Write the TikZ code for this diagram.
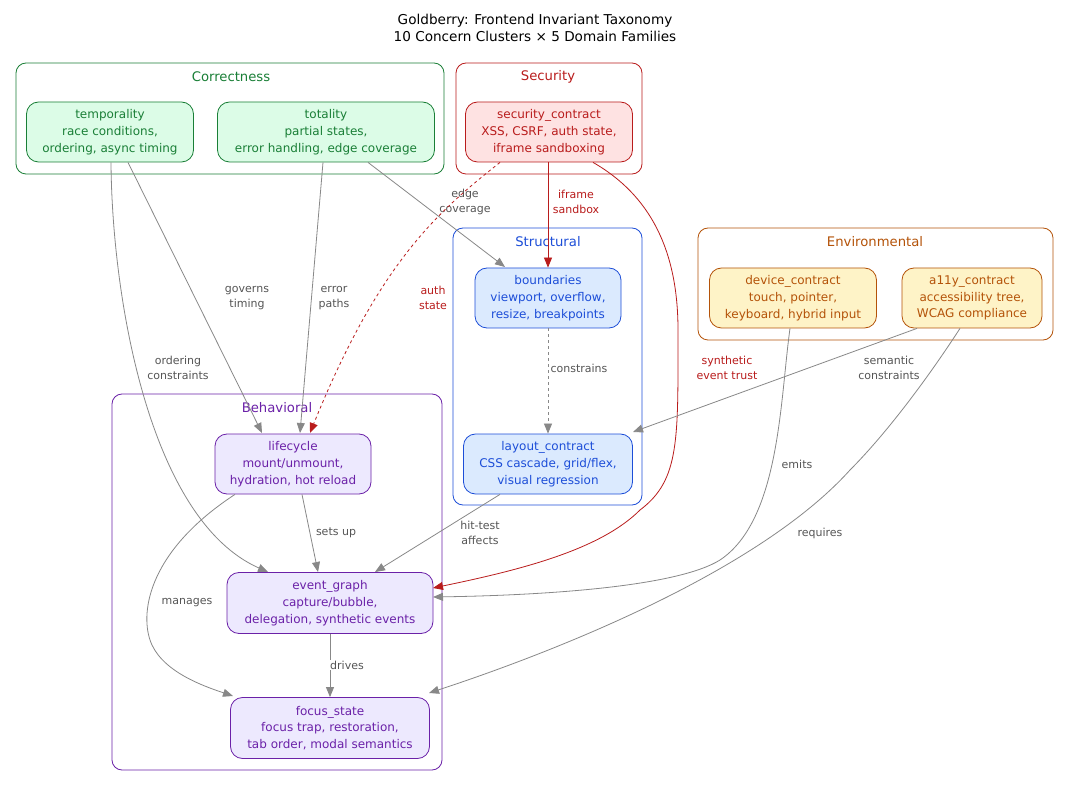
\documentclass[tikz,border=0pt]{standalone}
\usepackage{fontspec}
\setmainfont{DejaVu Sans}
\usetikzlibrary{arrows.meta}
\definecolor{gS}{HTML}{1A7F37}\definecolor{gF}{HTML}{DCFCE7}
\definecolor{rS}{HTML}{B91C1C}\definecolor{rF}{HTML}{FEE2E2}
\definecolor{bS}{HTML}{1D4ED8}\definecolor{bF}{HTML}{DBEAFE}
\definecolor{oS}{HTML}{B45309}\definecolor{oF}{HTML}{FEF3C7}
\definecolor{pS}{HTML}{6B21A8}\definecolor{pF}{HTML}{EDE9FE}
\definecolor{eg}{HTML}{888888}\definecolor{lg}{HTML}{555555}
\tikzset{
 clu/.style={draw=#1,rounded corners=10pt,line width=0.8pt},
 nd/.style 2 args={draw=#1,fill=#2,text=#1,rounded corners=12pt,line width=0.8pt,align=center,font=\fontsize{12}{16.8}\selectfont,inner sep=0pt},
 cl/.style={text=#1,font=\fontsize{13.2}{16}\selectfont},
 e/.style={draw=eg,line width=0.8pt,-{Triangle[length=10pt,width=8pt]}},
 er/.style={draw=rS,line width=0.8pt,-{Triangle[length=10pt,width=8pt]}},
 el/.style={font=\fontsize{11}{14.5}\selectfont,align=center,text=lg,fill=white,inner sep=1pt},
 elr/.style={font=\fontsize{11}{14.5}\selectfont,align=center,text=rS,fill=white,inner sep=1pt},
}
\begin{document}
\begin{tikzpicture}[x=1pt,y=-1pt]
\useasboundingbox[fill=white] (0,0) rectangle (1069,786);
\node[font=\fontsize{13.6}{17}\selectfont,align=center] (title) at (535,28) {Goldberry: Frontend Invariant Taxonomy\\10 Concern Clusters × 5 Domain Families};
% clusters
\draw[clu=gS] (16,63) rectangle (444,174); \node[cl=gS] (cC) at (231,77) {Correctness};
\draw[clu=rS] (456,63) rectangle (642,174); \node[cl=rS] (cS) at (548,77) {Security};
\draw[clu=bS] (453,228) rectangle (642,505); \node[cl=bS] (cT) at (548,242) {Structural};
\draw[clu=oS] (698,228) rectangle (1053,340); \node[cl=oS] (cE) at (875,242) {Environmental};
\draw[clu=pS] (112,394) rectangle (442,770); \node[cl=pS] (cB) at (277,408) {Behavioral};
% nodes
\node[nd={gS}{gF},minimum width=167,minimum height=60] (temp) at (110,132) {temporality\\race conditions,\\ordering, async timing};
\node[nd={gS}{gF},minimum width=217,minimum height=60] (tot) at (326,132) {totality\\partial states,\\error handling, edge coverage};
\node[nd={rS}{rF},minimum width=167,minimum height=60] (sec) at (549,132) {security\_contract\\XSS, CSRF, auth state,\\iframe sandboxing};
\node[nd={bS}{bF},minimum width=146,minimum height=60] (bnd) at (548,298) {boundaries\\viewport, overflow,\\resize, breakpoints};
\node[nd={bS}{bF},minimum width=169,minimum height=60] (lay) at (548,464) {layout\_contract\\CSS cascade, grid/flex,\\visual regression};
\node[nd={oS}{oF},minimum width=167,minimum height=60] (dev) at (793,298) {device\_contract\\touch, pointer,\\keyboard, hybrid input};
\node[nd={oS}{oF},minimum width=140,minimum height=60] (a11y) at (972,298) {a11y\_contract\\accessibility tree,\\WCAG compliance};
\node[nd={pS}{pF},minimum width=156,minimum height=60] (life) at (293,464) {lifecycle\\mount/unmount,\\hydration, hot reload};
\node[nd={pS}{pF},minimum width=206,minimum height=61] (evt) at (330,603) {event\_graph\\capture/bubble,\\delegation, synthetic events};
\node[nd={pS}{pF},minimum width=199,minimum height=61] (foc) at (330,728) {focus\_state\\focus trap, restoration,\\tab order, modal semantics};
% edges
\draw[e] ([xshift=18pt]temp.south) -- (262,433);
\node[el] at (247,298) {governs\\timing};
\draw[e] ([xshift=1pt]temp.south) .. controls (112,300) and (150,520) .. (268,572);
\node[el] at (178,368) {ordering\\constraints};
\draw[e] ([xshift=-3pt]tot.south) -- (300,433);
\node[el] at (334,298) {error\\paths};
\draw[e] ([xshift=42pt]tot.south) -- (505,267);
\node[el,fill=none] at (465,202) {edge\\coverage};
\draw[er,dashed] ([xshift=-49pt]sec.south) .. controls (440,210) and (380,260) .. (310,433);
\node[elr] at (433,298) {auth\\state};
\draw[er] (sec.south -| bnd.north) -- (bnd.north);
\node[elr] at (576,202) {iframe\\sandbox};
\draw[er] ([xshift=44pt]sec.south) .. controls (650,195) and (678,250) .. (678,330) .. controls (678,440) and (680,480) .. (640,510) .. controls (600,550) and (520,570) .. (433,588);
\node[elr] at (727,368) {synthetic\\event trust};
\draw[e,dashed] (bnd.south) -- (lay.north);
\node[el] at (579,368) {constrains};
\draw[e] ([xshift=-55pt]a11y.south) -- (633,432);
\node[el] at (889,368) {semantic\\constraints};
\draw[e] ([xshift=-3pt]dev.south) .. controls (780,400) and (780,520) .. (720,560) .. controls (680,585) and (560,595) .. (433,597);
\node[el] at (797,464) {emits};
\draw[e] ([xshift=-12pt]a11y.south) .. controls (920,390) and (880,440) .. (850,470) .. controls (760,570) and (560,650) .. (429,693);
\node[el] at (820,533) {requires};
\draw[e] ([xshift=-48pt]lay.south) -- (375,572);
\node[el] at (480,533) {hit-test\\affects};
\draw[e] ([xshift=9pt]life.south) -- (318,572);
\node[el] at (336,533) {sets up};
\draw[e] ([xshift=-58pt]life.south) .. controls (150,550) and (140,610) .. (150,640) .. controls (160,670) and (200,685) .. (233,696);
\node[el] at (187,603) {manages};
\draw[e] (evt.south) -- (foc.north);
\node[el] at (347,665) {drives};
\end{tikzpicture}
\end{document}
